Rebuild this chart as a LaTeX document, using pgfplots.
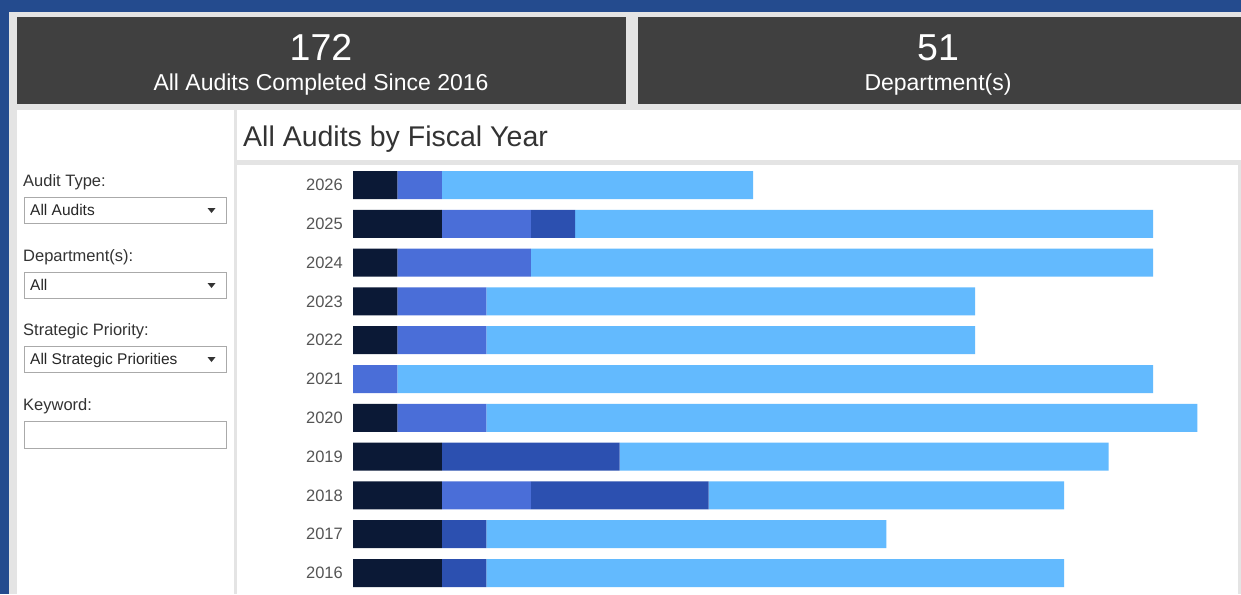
\documentclass[border=0pt]{standalone}
\usepackage{fontspec}
\setmainfont{Liberation Sans}
\usepackage{pgfplots}
\pgfplotsset{compat=1.18}
\usepackage{pgfplotstable}
\definecolor{bgblue}{HTML}{244B8E}
\definecolor{frame}{HTML}{E4E4E4}
\definecolor{kpi}{HTML}{404040}
\definecolor{cDark}{HTML}{0B1936}
\definecolor{cMed}{HTML}{4A6ED8}
\definecolor{cDeep}{HTML}{2C50B0}
\definecolor{cLight}{HTML}{63BAFE}
\definecolor{txt}{HTML}{333333}
\definecolor{ticktxt}{HTML}{555555}
\definecolor{boxline}{HTML}{AAAAAA}

\pgfplotstableread{
year dark med deep light
2016 2 0 1 13
2017 2 0 1 9
2018 2 2 4 8
2019 2 0 4 11
2020 1 2 0 16
2021 0 1 0 17
2022 1 2 0 11
2023 1 2 0 11
2024 1 3 0 14
2025 2 2 1 13
2026 1 1 0 7
}\audits

\begin{document}
\begin{tikzpicture}
\useasboundingbox (0pt,0pt) rectangle (1241pt,-594pt);
\begin{scope}[x=1pt,y=-1pt]
\fill[bgblue] (0,0) rectangle (1241,594);
\fill[frame] (9,12) rectangle (1241,594);
\fill[kpi] (17,17) rectangle (626,104);
\fill[kpi] (638,17) rectangle (1241,104);
\fill[white] (17,110) rectangle (234,594);
\fill[white] (237,110) rectangle (1241,160);
\fill[white] (237,165) rectangle (1238,594);
% KPI texts
\node[anchor=base, text=white, font=\fontsize{37.5}{40}\selectfont, inner sep=0pt] at (321,60) {172};
\node[anchor=base, text=white, font=\fontsize{23}{25}\selectfont, inner sep=0pt] at (321,90) {All Audits Completed Since 2016};
\node[anchor=base, text=white, font=\fontsize{37.5}{40}\selectfont, inner sep=0pt] at (938,60) {51};
\node[anchor=base, text=white, font=\fontsize{23}{25}\selectfont, inner sep=0pt] at (938,90) {Department(s)};
% title
\node[anchor=base west, text=txt, font=\fontsize{28.5}{31}\selectfont, inner sep=0pt] at (243,146) {All Audits by Fiscal Year};
% filter panel
\foreach \lab/\yy/\val in {Audit Type:/186/All Audits, Department(s):/261/All, Strategic Priority:/335/All Strategic Priorities}{
  \node[anchor=base west, text=txt, font=\fontsize{16.5}{18}\selectfont, inner sep=0pt] at (23,\yy) {\lab};
  \draw[boxline, fill=white] (24,\yy+11) rectangle (226,\yy+37);
  \node[anchor=base west, text=black!85, font=\fontsize{15.5}{17}\selectfont, inner sep=0pt] at (30,\yy+29) {\val};
  \fill[black!80] (207.5,\yy+22) -- (215.5,\yy+22) -- (211.5,\yy+27) -- cycle;
}
\node[anchor=base west, text=txt, font=\fontsize{16.5}{18}\selectfont, inner sep=0pt] at (23,410) {Keyword:};
\draw[boxline, fill=white] (24,421) rectangle (226,448);
\end{scope}
\begin{axis}[
  at={(353pt,-592.4pt)}, anchor=south west,
  scale only axis, width=888.9pt, height=426.8pt,
  xbar stacked, bar width=28pt,
  xmin=0, xmax=20, ymin=2015.5, ymax=2026.5,
  axis line style={draw=none},
  major tick length=0pt,
  xtick=\empty,
  ytick={2016,2017,2018,2019,2020,2021,2022,2023,2024,2025,2026},
  yticklabels={2016,2017,2018,2019,2020,2021,2022,2023,2024,2025,2026},
  yticklabel style={text=ticktxt, font=\fontsize{16.5}{18}\selectfont, inner sep=0pt, xshift=-10pt},
  clip=false,
]
\addplot[fill=cDark, draw=none] table[x=dark, y=year]{\audits};
\addplot[fill=cMed, draw=none] table[x=med, y=year]{\audits};
\addplot[fill=cDeep, draw=none] table[x=deep, y=year]{\audits};
\addplot[fill=cLight, draw=none] table[x=light, y=year]{\audits};
\end{axis}
\end{tikzpicture}
\end{document}
